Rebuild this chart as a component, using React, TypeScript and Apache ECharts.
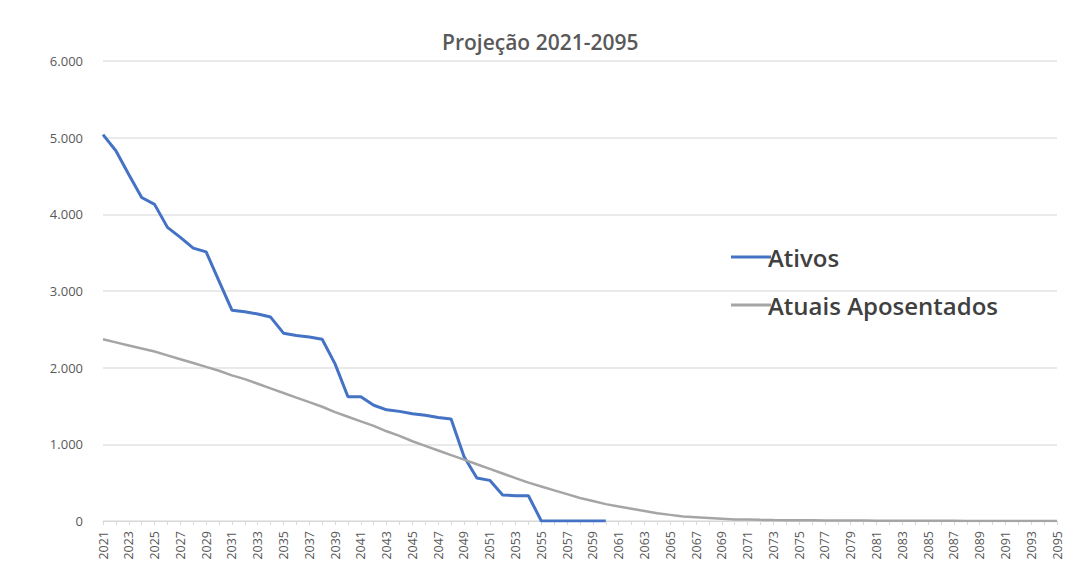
import React, { useEffect, useRef } from "react";
import * as echarts from "echarts";

const years: string[] = [];
for (let y = 2021; y <= 2095; y++) years.push(String(y));

const ativos: (number | null)[] = [
  5040, 4830, 4520, 4220, 4130, 3830, 3700, 3560, 3510, 3130,
  2750, 2730, 2700, 2660, 2450, 2420, 2400, 2370, 2050, 1620,
  1620, 1510, 1450, 1430, 1400, 1380, 1350, 1330, 840, 560,
  530, 340, 330, 330, 0, 0, 0, 0, 0, 0,
];

const aposentados: number[] = [
  2370, 2330, 2290, 2250, 2210, 2160, 2110, 2060, 2010, 1960,
  1900, 1850, 1790, 1730, 1670, 1610, 1550, 1490, 1420, 1360,
  1300, 1240, 1170, 1110, 1040, 980, 920, 860, 800, 740,
  680, 620, 560, 500, 450, 400, 350, 300, 260, 220,
  190, 160, 130, 100, 80, 60, 50, 40, 30, 20,
  20, 15, 12, 10, 10, 10, 8, 6, 5, 5,
  4, 4, 3, 3, 2, 2, 2, 1, 1, 1,
  1, 1, 0, 0, 0,
];

const yTicks = [0, 1000, 2000, 3000, 4000, 5000, 6000];

const fmt = (v: number) => String(v).replace(/\B(?=(\d{3})+(?!\d))/g, ".");

export default function App() {
  const ref = useRef<HTMLDivElement>(null);
  useEffect(() => {
    if (!ref.current) return;
    const chart = echarts.init(ref.current, undefined, { renderer: "svg" });
    chart.setOption({
      animation: false,
      backgroundColor: "#ffffff",
      textStyle: { fontFamily: "Open Sans" },
      title: {
        text: "Projeção 2021-2095",
        left: 437,
        top: 26,
        textStyle: { fontSize: 21, fontWeight: 600, color: "#595959", fontFamily: "Open Sans" },
      },
      legend: {
        orient: "vertical",
        left: 726,
        top: 240,
        itemWidth: 40,
        itemHeight: 3,
        itemGap: 24,
        icon: "rect",
        data: ["Ativos", "Atuais Aposentados"],
        textStyle: { fontSize: 24, fontWeight: 600, color: "#404040", padding: [0, 0, 0, -8], fontFamily: "Open Sans" },
      },
      grid: { left: 103, right: 8, top: 61, bottom: 65, containLabel: false },
      xAxis: {
        type: "category",
        data: years,
        boundaryGap: false,
        axisLine: { lineStyle: { color: "#d9d9d9" } },
        axisTick: { show: true, interval: 0, length: 4, lineStyle: { color: "#d9d9d9" } },
        axisLabel: { interval: 1, rotate: 90, fontSize: 12.5, color: "#595959", margin: 10 },
        splitLine: { show: false },
      },
      yAxis: {
        type: "value",
        min: yTicks[0],
        max: yTicks[yTicks.length - 1],
        interval: 1000,
        axisLine: { show: false },
        axisTick: { show: false },
        axisLabel: { fontSize: 13, color: "#595959", margin: 20, formatter: (v: number) => fmt(v) },
        splitLine: { lineStyle: { color: "#e3e3e3", width: 1.5 } },
      },
      series: [
        {
          name: "Ativos",
          type: "line",
          data: ativos,
          showSymbol: false,
          symbol: "none",
          lineStyle: { color: "#4472C4", width: 3 },
          itemStyle: { color: "#4472C4" },
        },
        {
          name: "Atuais Aposentados",
          type: "line",
          data: aposentados,
          showSymbol: false,
          symbol: "none",
          lineStyle: { color: "#A5A5A5", width: 2.5 },
          itemStyle: { color: "#A5A5A5" },
        },
      ],
    });
    return () => chart.dispose();
  }, []);
  return <div ref={ref} style={{ width: 1065, height: 586, position: "absolute", left: 0, top: 0 }} />;
}
